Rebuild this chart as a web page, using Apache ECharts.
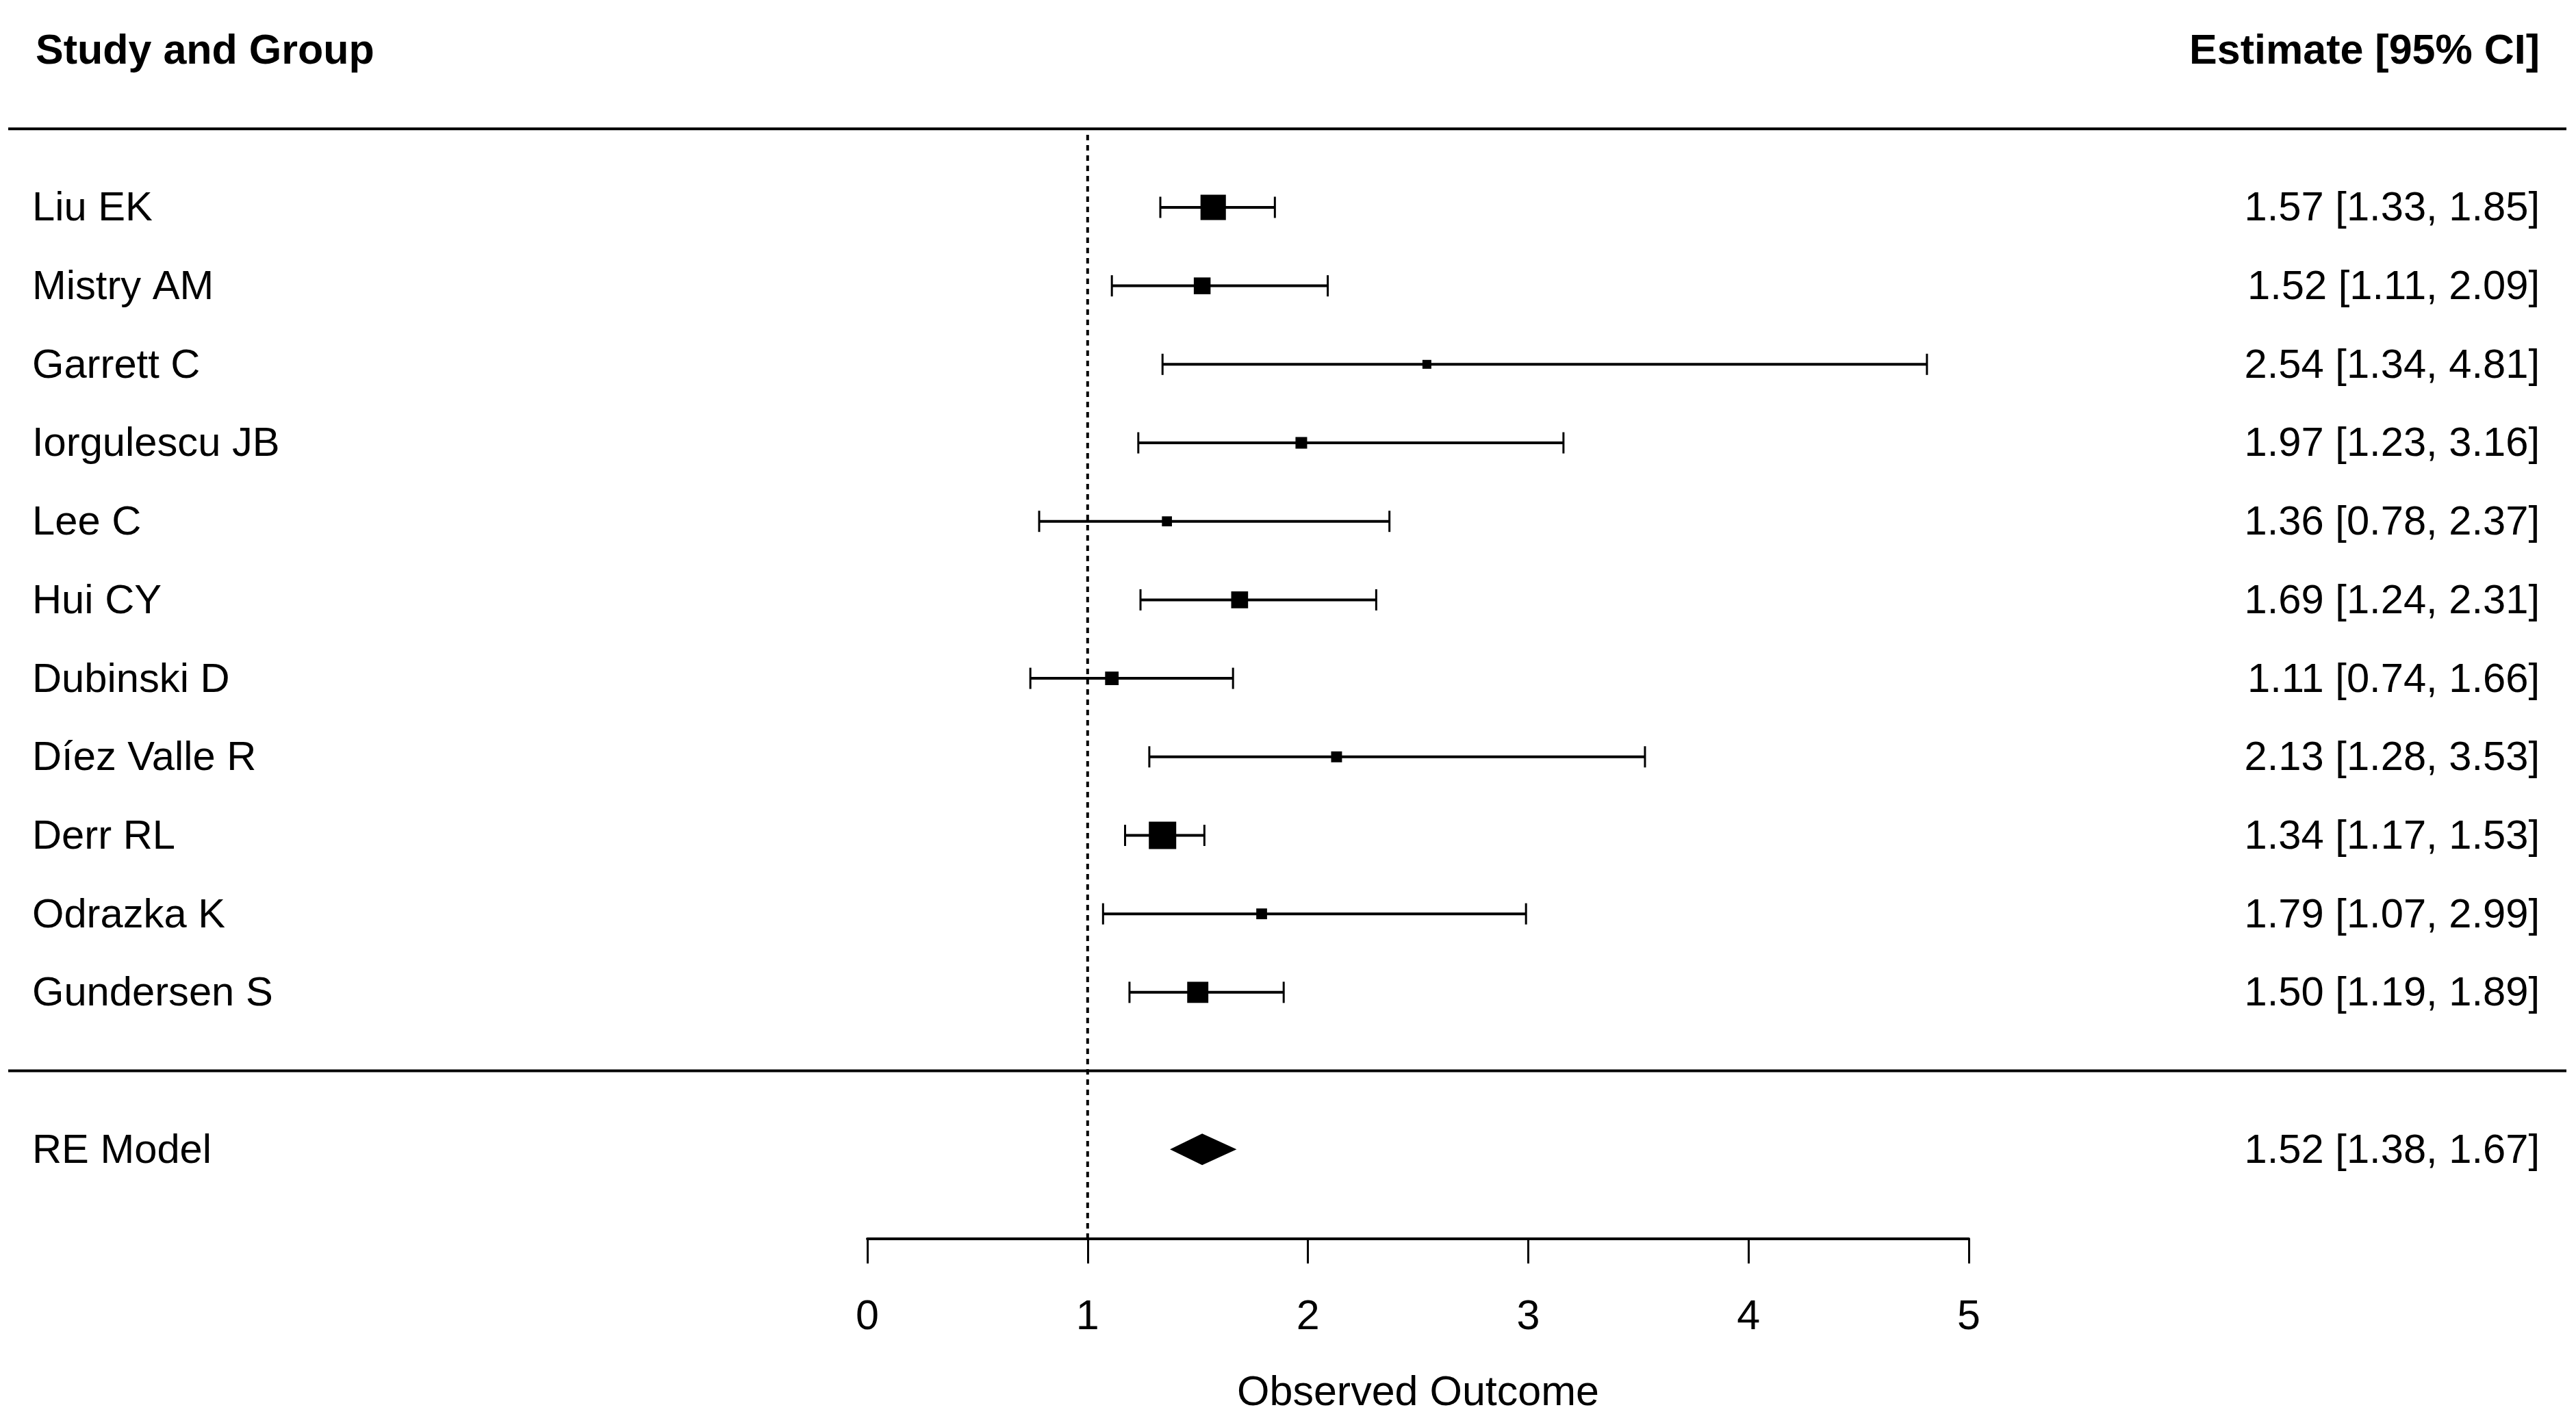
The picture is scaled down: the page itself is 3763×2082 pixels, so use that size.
<!DOCTYPE html>
<html><head><meta charset="utf-8">
<script src="https://cdn.jsdelivr.net/npm/echarts/dist/echarts.min.js"></script>
<style>html,body{margin:0;padding:0;background:#fff}#c{width:3763px;height:2082px}</style>
</head><body><div id="c"></div>
<script>
// ---- data ----
const studies = ['Liu EK','Mistry AM','Garrett C','Iorgulescu JB','Lee C','Hui CY','Dubinski D','Díez Valle R','Derr RL','Odrazka K','Gundersen S'];
const estimates = [1.57,1.52,2.54,1.97,1.36,1.69,1.11,2.13,1.34,1.79,1.50];
const lowerCI  = [1.33,1.11,1.34,1.23,0.78,1.24,0.74,1.28,1.17,1.07,1.19];
const upperCI  = [1.85,2.09,4.81,3.16,2.37,2.31,1.66,3.53,1.53,2.99,1.89];
const weights  = [16.8,9.9,3.6,5.8,4.5,10.0,7.3,5.2,18.4,5.1,13.4];
const pooledLabel = 'RE Model';
const pooledValues = [1.52,1.38,1.67]; // estimate, lower, upper
const xTicks = [0,1,2,3,4,5];
const refValue = 1;
const headerLeft = 'Study and Group';
const headerRight = 'Estimate [95% CI]';
const axisTitle = 'Observed Outcome';

// ---- layout / style ----
const FONT = '"Liberation Sans", Arial, Helvetica, sans-serif';
const FS = 59.7, FSB = 61;
const k = studies.length;
const rows = studies.map((_, i) => k - i);
const pooledRow = -1;
const minSize = 13, maxSize = 40, capH = 15.5;
const wMin = Math.min(...weights), wMax = Math.max(...weights);
const fmt = v => v.toFixed(2);
const ciText = (e, l, u) => `${fmt(e)} [${fmt(l)}, ${fmt(u)}]`;
const LEFT_X = 47, RIGHT_X = 3710, LINE_L = 12, LINE_R = 3749;

const chart = echarts.init(document.getElementById('c'), null, {renderer: 'canvas'});

const studyData = studies.map((s, i) => [rows[i], estimates[i], lowerCI[i], upperCI[i], weights[i]]);

const labelItems = [];
studies.forEach((s, i) => labelItems.push({row: rows[i], left: s, right: ciText(estimates[i], lowerCI[i], upperCI[i]), bold: false}));
labelItems.push({row: pooledRow, left: pooledLabel, right: ciText(pooledValues[0], pooledValues[1], pooledValues[2]), bold: false});
labelItems.push({row: k + 2, left: headerLeft, right: headerRight, bold: true});

const option = {
  animation: false,
  backgroundColor: '#fff',
  grid: {left: 1267, right: 887, top: 3, bottom: 272, containLabel: false},
  xAxis: {
    type: 'value', min: xTicks[0], max: xTicks[xTicks.length - 1], interval: 1,
    splitLine: {show: false},
    axisLine: {onZero: false, lineStyle: {color: '#000', width: 4}},
    axisTick: {inside: false, length: 36, lineStyle: {color: '#000', width: 3}},
    axisLabel: {color: '#000', fontSize: 61, fontFamily: FONT, margin: 85},
    name: axisTitle, nameLocation: 'middle', nameGap: 196,
    nameTextStyle: {color: '#000', fontSize: 61, fontFamily: FONT}
  },
  yAxis: {type: 'value', show: false, min: -2.14, max: 13.615},
  series: [
    {
      type: 'line', name: 'ref', symbol: 'none', silent: true,
      data: [[refValue, -2.14], [refValue, k + 1]],
      lineStyle: {color: '#000', width: 4, type: [8, 7]}, z: 1
    },
    {
      type: 'custom', name: 'separators', silent: true, z: 2,
      data: [[0, k + 1], [0, 0]],
      encode: {x: 0, y: 1},
      renderItem: (params, api) => {
        const y = api.coord([0, api.value(1)])[1];
        return {type: 'line', shape: {x1: LINE_L, y1: y, x2: LINE_R, y2: y}, style: {stroke: '#000', lineWidth: 4}};
      }
    },
    {
      type: 'custom', name: 'studies', z: 3,
      data: studyData,
      encode: {x: [1, 2, 3], y: 0},
      renderItem: (params, api) => {
        const row = api.value(0), est = api.value(1), lo = api.value(2), hi = api.value(3), w = api.value(4);
        const pL = api.coord([lo, row]), pH = api.coord([hi, row]), pE = api.coord([est, row]);
        const s = minSize + (w - wMin) / (wMax - wMin) * (maxSize - minSize);
        const st = {stroke: '#000', lineWidth: 4};
        return {type: 'group', children: [
          {type: 'line', shape: {x1: pL[0], y1: pL[1], x2: pH[0], y2: pH[1]}, style: st},
          {type: 'line', shape: {x1: pL[0], y1: pL[1] - capH, x2: pL[0], y2: pL[1] + capH}, style: {stroke: '#000', lineWidth: 3}},
          {type: 'line', shape: {x1: pH[0], y1: pH[1] - capH, x2: pH[0], y2: pH[1] + capH}, style: {stroke: '#000', lineWidth: 3}},
          {type: 'rect', shape: {x: pE[0] - s / 2, y: pE[1] - s / 2, width: s, height: s}, style: {fill: '#000'}}
        ]};
      }
    },
    {
      type: 'custom', name: 'pooled', z: 3,
      data: [[pooledRow, pooledValues[0], pooledValues[1], pooledValues[2]]],
      encode: {x: [1, 2, 3], y: 0},
      renderItem: (params, api) => {
        const row = api.value(0);
        const pE = api.coord([api.value(1), row]), pL = api.coord([api.value(2), row]), pH = api.coord([api.value(3), row]);
        const h = 23;
        return {type: 'polygon', shape: {points: [[pL[0] - 2, pL[1]], [pE[0], pE[1] - h], [pH[0] + 2, pH[1]], [pE[0], pE[1] + h]]}, style: {fill: '#000'}};
      }
    },
    {
      type: 'custom', name: 'labels', silent: true, z: 4,
      data: labelItems.map(d => [0, d.row]),
      encode: {x: 0, y: 1},
      renderItem: (params, api) => {
        const d = labelItems[params.dataIndex];
        const y = api.coord([0, api.value(1)])[1] + 3;
        const font = (d.bold ? 'bold ' + FSB : FS) + 'px ' + FONT;
        return {type: 'group', children: [
          {type: 'text', style: {text: d.left, x: LEFT_X + (d.bold ? 5 : 0), y: y, font: font, fill: '#000', align: 'left', verticalAlign: 'middle'}},
          {type: 'text', style: {text: d.right, x: RIGHT_X, y: y, font: font, fill: '#000', align: 'right', verticalAlign: 'middle'}}
        ]};
      }
    }
  ]
};
chart.setOption(option);
</script></body></html>
